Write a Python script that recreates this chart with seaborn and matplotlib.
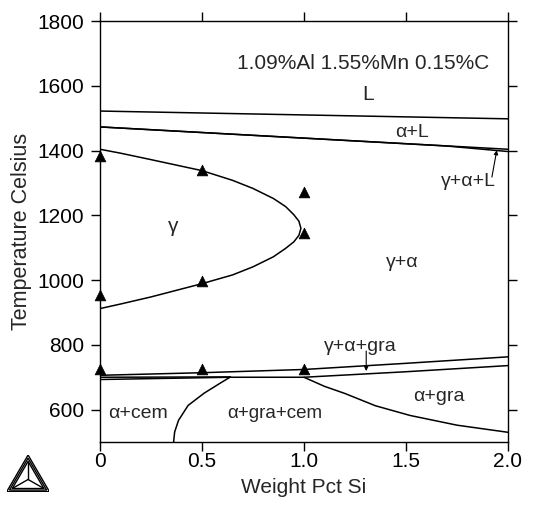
import numpy as np
import matplotlib
matplotlib.use('Agg')
import matplotlib.pyplot as plt
from matplotlib.patches import Polygon
import seaborn as sns

# --- phase boundaries (Si wt%, T in Celsius) ---
liq_si = [0.0, 2.0]
liq_t = [1522, 1498]

sol_si = [0.0, 2.0]
sol_t = [1473, 1404]

sol2_si = [0.0, 1.7, 2.0]
sol2_t = [1473, 1414, 1397]

gamma_si = [0.0, 0.1, 0.25, 0.5, 0.65, 0.75, 0.85, 0.91, 0.95, 0.975, 0.985,
            0.975, 0.95, 0.91, 0.85, 0.75, 0.65, 0.5, 0.25, 0.1, 0.0]
gamma_t = [1404, 1392, 1372, 1338, 1308, 1283, 1252, 1227, 1202, 1182, 1160,
           1138, 1118, 1098, 1072, 1041, 1016, 989, 948, 926, 912]

a1_top_si = [0.0, 0.5, 1.0, 1.5, 2.0]
a1_top_t = [706, 714, 724, 743, 763]

a1_mid_si = [0.0, 0.64]
a1_mid_t = [700, 701]

a1_low_si = [0.0, 0.64, 1.0, 1.5, 2.0]
a1_low_t = [693, 700, 700, 717, 736]

cem_si = [0.637, 0.59, 0.511, 0.432, 0.385, 0.366, 0.361]
cem_t = [700, 682, 651, 613, 567, 531, 500]

gra_si = [1.0, 1.1, 1.2, 1.35, 1.52, 1.75, 2.0]
gra_t = [700, 672, 650, 612, 582, 552, 530]

# experimental points
exp_si = [0.0, 0.5, 1.0, 1.0, 0.0, 0.5, 0.0, 0.5, 1.0]
exp_t = [1383, 1340, 1272, 1145, 955, 997, 726, 726, 727]

# region labels
lab_text = ['1.09%Al 1.55%Mn 0.15%C', 'L', 'α+L', 'γ+α+L', 'γ', 'γ+α',
            'γ+α+gra', 'α+cem', 'α+gra+cem', 'α+gra']
lab_si = [1.29, 1.313, 1.53, 1.807, 0.36, 1.48, 1.276, 0.188, 0.855, 1.66]
lab_t = [1669, 1573, 1456, 1303, 1164, 1055, 796, 587, 587, 641]
lab_size = [15, 15, 14, 14, 15, 14, 14, 14, 13.5, 14]

x_ticks = [0, 0.5, 1.0, 1.5, 2.0]
x_ticklabels = ['0', '0.5', '1.0', '1.5', '2.0']
y_ticks = [600, 800, 1000, 1200, 1400, 1600, 1800]

sns.set_style('ticks')
plt.rcParams['font.family'] = ['Liberation Sans', 'DejaVu Sans']

fig = plt.figure(figsize=(5.41, 5.09), dpi=100)
ax = fig.add_axes([0.1848, 0.1316, 0.7542, 0.8271])

line_kw = dict(color='black', linewidth=1.1, sort=False, estimator=None,
               legend=False, ax=ax)
for xs, ts in [(liq_si, liq_t), (sol_si, sol_t), (sol2_si, sol2_t),
               (gamma_si, gamma_t), (a1_top_si, a1_top_t), (a1_mid_si, a1_mid_t),
               (a1_low_si, a1_low_t), (cem_si, cem_t), (gra_si, gra_t)]:
    sns.lineplot(x=xs, y=ts, **line_kw)

sns.scatterplot(x=exp_si, y=exp_t, marker='^', color='black', s=60,
                edgecolor='black', linewidth=0.5, ax=ax, zorder=5,
                clip_on=False)

for txt, sx, st, fs in zip(lab_text, lab_si, lab_t, lab_size):
    ax.text(sx, st, txt, ha='center', va='center', fontsize=fs)

# arrows
ax.annotate('', xy=(1.945, 1401), xytext=(1.921, 1318),
            arrowprops=dict(arrowstyle='-|>', color='black', lw=0.8,
                            mutation_scale=6, shrinkA=0, shrinkB=0))
ax.annotate('', xy=(1.305, 719), xytext=(1.305, 781),
            arrowprops=dict(arrowstyle='-|>', color='black', lw=0.8,
                            mutation_scale=6, shrinkA=0, shrinkB=0))

ax.set_xlim(0, 2.0)
ax.set_ylim(500, 1800)
ax.set_xticks(x_ticks)
ax.set_xticklabels(x_ticklabels)
ax.set_yticks(y_ticks)
ax.tick_params(axis='both', direction='out', length=6.5, width=1.0,
               labelsize=15, colors='black', top=True, right=True,
               labeltop=False, labelright=False)
ax.tick_params(axis='x', pad=1)
ax.tick_params(axis='y', pad=5)
for sp in ax.spines.values():
    sp.set_visible(True)
    sp.set_linewidth(1.0)
    sp.set_color('black')
ax.set_xlabel('Weight Pct Si', fontsize=15, labelpad=5)
ax.set_ylabel('Temperature Celsius', fontsize=15.5, labelpad=4)

# logo
lax = fig.add_axes([0.0124, 0.034, 0.079, 0.072])
lax.set_xlim(-0.5, 0.5)
lax.set_ylim(0, 0.866)
lax.axis('off')
cx, cy = 0.0, 0.866 / 3
for k in [1.0, 0.87, 0.74]:
    pts = [(cx + (px - cx) * k, cy + (py - cy) * k)
           for px, py in [(-0.5, 0), (0.5, 0), (0, 0.866)]]
    lax.add_patch(Polygon(pts, closed=True, fill=False, edgecolor='black',
                          linewidth=1.0))
for px, py in [(-0.5, 0), (0.5, 0), (0, 0.866)]:
    lax.plot([cx, cx + (px - cx) * 0.74], [cy, cy + (py - cy) * 0.74],
             color='black', linewidth=1.0)

fig.savefig('out.png', dpi=100)
